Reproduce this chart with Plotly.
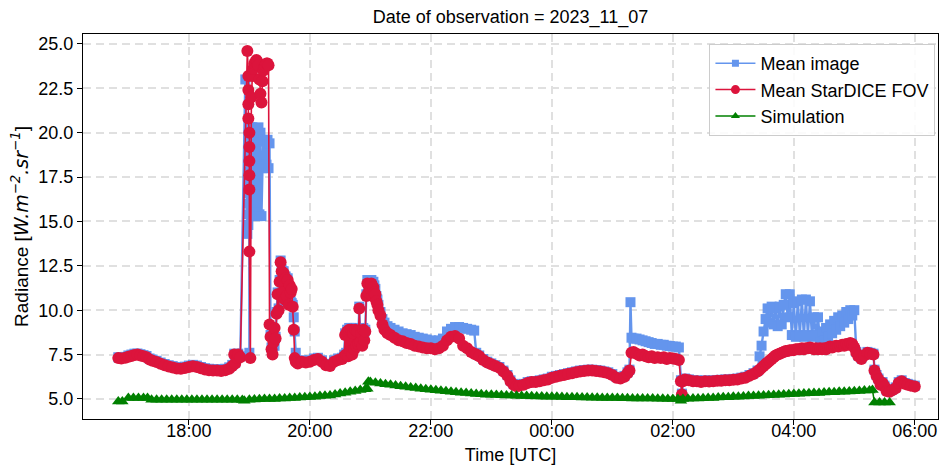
import plotly.graph_objects as go

# ---------------- data ----------------
obs_times = [
    "16:50","16:53","16:57","17:00","17:03","17:06","17:09","17:12",
    "17:15","17:18","17:21","17:24","17:28","17:32","17:36","17:40",
    "17:44","17:48","17:52","17:56","18:00","18:04","18:08","18:12",
    "18:16","18:20","18:24","18:28","18:32","18:36","18:40","18:43",
    "18:45","18:46","18:48","18:49","18:51","18:56","18:58","18:59",
    "18:59","18:59","18:59","19:00","19:00","19:00","19:00","19:00",
    "19:00","19:01","19:02","19:03","19:04","19:05","19:06","19:07",
    "19:08","19:09","19:10","19:11","19:12","19:13","19:14","19:15",
    "19:16","19:17","19:18","19:19","19:20","19:21","19:22","19:23",
    "19:24","19:25","19:26","19:27","19:28","19:29","19:30","19:31",
    "19:32","19:33","19:34","19:35","19:36","19:37","19:38","19:39",
    "19:40","19:41","19:42","19:43","19:44","19:45","19:46","19:48",
    "19:52","19:56","20:00","20:04","20:08","20:12","20:16","20:20",
    "20:24","20:28","20:32","20:34","20:35","20:36","20:37","20:38",
    "20:39","20:40","20:41","20:42","20:43","20:44","20:45","20:46",
    "20:47","20:48","20:49","20:50","20:51","20:52","20:53","20:54",
    "20:55","20:56","20:57","20:58","20:59","21:00","21:01","21:02",
    "21:03","21:04","21:05","21:06","21:07","21:08","21:10","21:12",
    "21:14","21:17","21:20","21:24","21:28","21:32","21:36","21:40",
    "21:44","21:48","21:52","21:56","22:00","22:04","22:08","22:12",
    "22:16","22:20","22:24","22:28","22:32","22:36","22:40","22:43",
    "22:45","22:48","22:52","22:56","23:00","23:04","23:08","23:12",
    "23:16","23:19","23:22","23:25","23:28","23:32","23:36","23:40",
    "23:44","23:48","23:52","23:56","00:00","00:04","00:08","00:12",
    "00:16","00:20","00:24","00:28","00:32","00:36","00:40","00:44",
    "00:48","00:52","00:56","01:00","01:04","01:08","01:12","01:15",
    "01:17","01:18","01:19","01:21","01:24","01:27","01:30","01:33",
    "01:36","01:39","01:42","01:45","01:48","01:51","01:54","01:57",
    "02:00","02:03","02:06","02:08","02:09","02:10","02:12","02:16",
    "02:20","02:24","02:28","02:32","02:36","02:40","02:44","02:48",
    "02:52","02:56","03:00","03:04","03:08","03:12","03:16","03:20",
    "03:24","03:26","03:28","03:30","03:32","03:34","03:36","03:38",
    "03:40","03:42","03:44","03:46","03:48","03:50","03:52","03:54",
    "03:56","03:58","04:00","04:02","04:04","04:06","04:08","04:10",
    "04:12","04:14","04:16","04:18","04:20","04:22","04:24","04:26",
    "04:28","04:30","04:32","04:34","04:36","04:38","04:40","04:42",
    "04:44","04:46","04:48","04:50","04:52","04:54","04:56","04:58",
    "05:00","05:02","05:04","05:07","05:10","05:13","05:16","05:19",
    "05:20","05:22","05:24","05:26","05:28","05:30","05:32","05:35",
    "05:38","05:41","05:44","05:47","05:50","05:53","05:56","06:00",
]

mean_fov = [
    7.30,7.28,7.32,7.38,7.42,7.48,7.50,7.45,
    7.40,7.35,7.22,7.15,7.08,6.98,6.90,6.83,
    6.77,6.72,6.70,6.74,6.80,6.84,6.80,6.73,
    6.66,6.62,6.60,6.60,6.58,6.62,6.70,6.85,
    7.50,7.00,7.30,7.50,7.35,None,24.60,23.20,
    22.40,21.60,20.80,20.00,19.20,18.40,17.60,16.80,
    13.30,7.30,22.00,23.20,23.60,23.90,24.00,24.10,
    24.00,23.80,23.00,22.20,21.70,22.90,23.50,23.70,
    23.80,23.90,23.90,23.80,9.20,8.50,7.80,7.50,
    8.20,9.00,8.40,9.80,10.90,10.00,11.60,12.70,
    12.20,11.00,12.10,10.60,11.80,10.80,11.70,10.30,
    11.40,11.00,11.20,10.20,8.90,7.30,7.10,7.00,
    7.10,7.05,7.10,7.20,7.25,7.10,6.90,6.85,
    7.10,7.20,7.25,7.40,8.60,7.50,8.80,7.40,
    8.90,7.70,8.90,7.50,8.70,7.80,8.90,8.00,
    8.80,8.10,10.10,8.20,8.70,8.00,8.90,8.30,
    8.80,10.80,11.50,11.00,11.40,11.20,11.50,10.80,
    11.30,11.00,10.90,10.50,10.30,10.00,9.70,9.20,
    8.90,8.70,8.60,8.45,8.30,8.25,8.15,8.10,
    8.00,7.95,7.90,7.85,7.85,7.80,7.85,8.00,
    8.30,8.50,8.55,8.40,8.00,7.85,7.65,7.55,
    7.50,7.40,7.20,7.05,6.95,6.85,6.75,6.55,
    6.30,6.00,5.80,5.72,5.75,5.80,5.90,5.95,
    5.95,6.00,6.05,6.10,6.20,6.25,6.30,6.35,
    6.40,6.45,6.50,6.55,6.58,6.60,6.60,6.58,
    6.55,6.50,6.45,6.35,6.20,6.15,6.25,6.45,
    6.60,None,7.60,7.65,7.55,7.45,7.50,7.40,
    7.35,7.40,7.30,7.35,7.30,7.35,7.25,7.30,
    7.28,7.25,7.20,6.00,5.25,6.00,6.10,6.05,
    6.00,6.00,5.95,6.00,5.98,6.00,6.02,6.03,
    6.05,6.05,6.08,6.10,6.15,6.20,6.30,6.40,
    6.55,6.65,6.75,6.85,6.95,7.05,7.15,7.25,
    7.35,7.45,7.50,7.55,7.60,7.65,7.70,7.70,
    7.75,7.75,7.75,7.80,7.80,7.80,7.85,7.80,
    7.85,7.85,7.90,7.85,7.80,7.85,7.80,7.85,
    7.80,7.85,7.80,7.90,7.95,7.90,7.95,8.00,
    7.95,8.00,8.05,8.00,8.10,8.05,8.15,8.10,
    7.90,7.60,7.40,7.25,7.45,7.60,7.55,7.50,
    6.60,6.30,6.10,5.80,5.90,5.70,5.45,5.40,
    5.50,5.60,5.90,6.00,5.85,5.80,5.75,5.70,
]

mean_image = [
    7.35,7.33,7.37,7.45,7.50,7.55,7.56,7.52,
    7.47,7.42,7.28,7.22,7.15,7.05,6.97,6.90,
    6.85,6.80,6.78,6.82,6.88,6.92,6.88,6.80,
    6.73,6.70,6.68,6.68,6.66,6.70,6.78,6.92,
    7.55,7.05,7.35,7.55,7.40,23.00,14.30,14.80,
    15.40,16.00,16.60,17.20,17.80,18.40,19.00,19.60,
    7.60,20.30,15.30,20.30,15.40,20.20,15.50,20.10,
    15.30,20.30,15.40,20.00,15.30,18.00,19.60,18.10,
    19.50,18.20,19.60,18.00,19.40,8.60,7.90,7.60,
    8.00,8.00,8.50,9.90,11.00,10.10,11.70,12.80,
    12.30,11.10,12.20,10.70,11.90,10.90,11.80,10.50,
    10.50,10.50,10.40,10.30,9.60,8.80,7.60,7.10,
    7.18,7.12,7.18,7.28,7.32,7.18,6.98,6.93,
    7.18,7.28,7.32,7.50,8.70,7.60,8.90,7.50,
    9.00,7.80,9.00,7.60,8.80,7.90,9.00,8.10,
    8.90,8.20,10.20,8.30,8.80,8.10,9.00,8.40,
    8.90,10.90,11.70,11.20,11.60,11.60,11.70,11.10,
    11.60,11.40,11.20,10.80,10.60,10.30,9.90,9.50,
    9.30,9.10,9.00,8.90,8.80,8.70,8.65,8.60,
    8.50,8.45,8.40,8.35,8.30,8.25,8.30,8.40,
    8.80,8.95,9.05,9.05,9.00,8.95,8.90,8.85,
    7.60,7.45,7.25,7.10,7.00,6.90,6.80,6.60,
    6.35,6.05,5.85,5.77,5.80,5.85,5.95,6.00,
    6.00,6.05,6.10,6.15,6.25,6.30,6.35,6.40,
    6.45,6.50,6.55,6.60,6.63,6.65,6.65,6.63,
    6.60,6.55,6.50,6.40,6.25,6.20,6.30,6.50,
    6.65,10.45,8.45,8.40,8.40,8.35,8.30,8.25,
    8.20,8.15,8.10,8.10,8.05,8.05,8.00,7.98,
    7.95,7.95,7.90,6.05,5.30,6.05,6.15,6.10,
    6.05,6.05,6.00,6.05,6.03,6.05,6.07,6.08,
    6.10,6.10,6.13,6.15,6.20,6.25,6.35,6.45,
    6.60,7.40,8.00,8.80,9.50,10.10,9.30,10.20,
    9.20,10.10,9.10,10.20,9.20,10.30,10.90,9.60,
    10.90,8.60,10.40,8.50,10.50,8.60,10.60,8.50,
    10.60,8.60,10.50,8.50,9.60,8.60,9.60,8.20,
    8.80,8.30,9.00,8.50,9.20,8.70,9.40,8.90,
    9.60,9.10,9.70,9.30,9.90,9.50,10.00,9.70,
    10.00,7.65,7.45,7.30,7.50,7.65,7.60,7.55,
    6.65,6.35,6.15,5.85,5.95,5.75,5.50,5.45,
    5.55,5.65,5.95,6.05,5.90,5.85,5.80,5.75,
]

sim_times = [
    "16:50","16:54","17:00","17:05","17:10","17:15","17:19","17:23",
    "17:28","17:33","17:38","17:43","17:48","17:53","17:58","18:03",
    "18:08","18:13","18:18","18:23","18:28","18:33","18:38","18:43",
    "18:48","18:53","18:55","19:00","19:05","19:10","19:15","19:20",
    "19:25","19:30","19:35","19:40","19:45","19:50","19:55","20:00",
    "20:05","20:10","20:15","20:20","20:25","20:30","20:35","20:40",
    "20:45","20:50","20:55","20:57","20:58","21:00","21:05","21:10",
    "21:15","21:20","21:25","21:30","21:35","21:40","21:45","21:50",
    "21:55","22:00","22:05","22:10","22:15","22:20","22:25","22:30",
    "22:35","22:40","22:45","22:50","22:55","23:00","23:05","23:10",
    "23:15","23:20","23:25","23:30","23:35","23:40","23:45","23:50",
    "23:55","00:00","00:05","00:10","00:15","00:20","00:25","00:30",
    "00:35","00:40","00:45","00:50","00:55","01:00","01:05","01:10",
    "01:15","01:20","01:25","01:30","01:35","01:40","01:45","01:50",
    "01:55","02:00","02:05","02:08","02:10","02:15","02:20","02:25",
    "02:30","02:35","02:40","02:45","02:50","02:55","03:00","03:05",
    "03:10","03:15","03:20","03:25","03:30","03:35","03:40","03:45",
    "03:50","03:55","04:00","04:05","04:10","04:15","04:20","04:25",
    "04:30","04:35","04:40","04:45","04:50","04:55","05:00","05:05",
    "05:10","05:15","05:18","05:20","05:25","05:30","05:35",
]

simulation = [
    4.85,4.85,5.05,5.05,5.05,5.05,5.05,4.95,
    4.95,4.95,4.95,4.95,4.95,4.95,4.95,4.95,
    4.95,4.95,4.95,4.95,4.95,4.95,4.95,4.95,
    4.95,4.94,4.90,4.96,4.97,4.98,4.99,5.00,
    5.00,5.02,5.03,5.05,5.06,5.08,5.09,5.11,
    5.13,5.16,5.18,5.20,5.25,5.30,5.35,5.40,
    5.45,5.50,5.55,5.58,5.97,5.95,5.91,5.87,
    5.83,5.80,5.76,5.72,5.69,5.65,5.62,5.58,
    5.55,5.52,5.49,5.46,5.43,5.40,5.38,5.35,
    5.33,5.30,5.28,5.26,5.24,5.23,5.22,5.21,
    5.20,5.19,5.18,5.17,5.16,5.15,5.14,5.14,
    5.13,5.12,5.12,5.11,5.10,5.10,5.09,5.08,
    5.08,5.07,5.07,5.06,5.06,5.05,5.05,5.04,
    5.04,5.03,5.03,5.02,5.02,5.02,5.01,5.01,
    5.00,5.00,5.00,4.90,5.00,5.01,5.02,5.03,
    5.04,5.05,5.06,5.08,5.09,5.10,5.12,5.13,
    5.14,5.16,5.17,5.18,5.20,5.21,5.22,5.24,
    5.25,5.26,5.28,5.29,5.30,5.32,5.33,5.34,
    5.36,5.37,5.38,5.40,5.41,5.42,5.44,5.45,
    5.47,5.48,5.50,4.80,4.80,4.80,4.80,
]

y_ticks = [5.0, 7.5, 10.0, 12.5, 15.0, 17.5, 20.0, 22.5, 25.0]

assert len(obs_times) == len(mean_fov) == len(mean_image)
assert len(sim_times) == len(simulation)


def to_datetime(hm):
    h = int(hm.split(":")[0])
    day = "2023-11-07" if h >= 12 else "2023-11-08"
    return f"{day} {hm}"


obs_x = [to_datetime(t) for t in obs_times]
sim_x = [to_datetime(t) for t in sim_times]

FONT = "Liberation Sans, Arial, Helvetica, sans-serif"
BLUE, RED, GREEN = "#6495ED", "#DC143C", "#008000"

fig = go.Figure()
# data traces (big markers so the dense series read as thick bands)
fig.add_trace(go.Scatter(
    x=obs_x, y=mean_image, mode="lines+markers", name="Mean image",
    line=dict(color=BLUE, width=2.4),
    marker=dict(symbol="square", size=10, color=BLUE),
    connectgaps=True, showlegend=False,
))
fig.add_trace(go.Scatter(
    x=obs_x, y=mean_fov, mode="lines+markers", name="Mean StarDICE FOV",
    line=dict(color=RED, width=1.6),
    marker=dict(symbol="circle", size=12, color=RED),
    connectgaps=True, showlegend=False,
))
fig.add_trace(go.Scatter(
    x=sim_x, y=simulation, mode="lines+markers", name="Simulation",
    line=dict(color=GREEN, width=1.5),
    marker=dict(symbol="triangle-up", size=11, color=GREEN),
    showlegend=False,
))
# legend entries with the reference's small marker sizes
for name, color, sym, size in [("Mean image", BLUE, "square", 7),
                               ("Mean StarDICE FOV", RED, "circle", 9),
                               ("Simulation", GREEN, "triangle-up", 8)]:
    fig.add_trace(go.Scatter(
        x=[None], y=[None], mode="lines+markers", name=name,
        line=dict(color=color, width=1.5),
        marker=dict(symbol=sym, size=size, color=color),
    ))

axis_common = dict(
    showline=True, linecolor="black", linewidth=1.2, mirror=True,
    ticks="outside", ticklen=5, tickwidth=1.2, tickcolor="black",
    showgrid=True, gridcolor="#e0e0e0", gridwidth=1.5, griddash="8px,5px",
    zeroline=False, tickfont=dict(size=18, color="black"),
)

MATH = "font-family:'DejaVu Sans';font-style:italic"
y_title = (f"Radiance [<span style=\"{MATH}\">W.m</span>"
           f"<sup><span style=\"{MATH}\">−2</span></sup>"
           f"<span style=\"{MATH}\">.sr</span>"
           f"<sup><span style=\"{MATH}\">−1</span></sup>]")

fig.update_layout(
    width=942, height=466,
    margin=dict(l=83, r=4, t=34, b=47, autoexpand=False),
    paper_bgcolor="white", plot_bgcolor="white",
    font=dict(family=FONT, size=18, color="black"),
    title=dict(text="Date of observation = 2023_11_07", x=0.5, xref="paper",
               xanchor="center", y=1 - 17 / 466, yref="container",
               yanchor="middle", font=dict(size=18)),
    xaxis=dict(
        type="date",
        range=["2023-11-07 16:15", "2023-11-08 06:23"],
        tick0="2023-11-07 18:00", dtick=7200000, tickformat="%H:%M",
        ticklabelstandoff=-10,
        title=dict(text="Time [UTC]", standoff=8, font=dict(size=18)),
        **axis_common,
    ),
    yaxis=dict(
        range=[3.87, 25.56], tickvals=y_ticks, tickformat=".1f",
        title=dict(text=y_title, standoff=4, font=dict(size=19)),
        **axis_common,
    ),
    legend=dict(
        x=0.997, y=0.974, xanchor="right", yanchor="top",
        bgcolor="rgba(255,255,255,0.85)", bordercolor="#cccccc", borderwidth=1,
        font=dict(size=18), itemwidth=40, tracegroupgap=0,
    ),
)

fig.write_html("out.html")
